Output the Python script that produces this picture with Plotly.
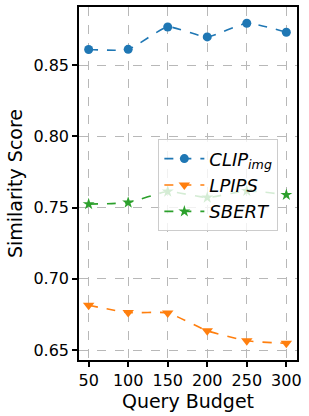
import plotly.graph_objects as go

budgets = [50, 100, 150, 200, 250, 300]
clip_img = [0.8609, 0.8610, 0.8767, 0.8697, 0.8793, 0.8730]
lpips = [0.6814, 0.6763, 0.6760, 0.6635, 0.6565, 0.6547]
sbert = [0.7524, 0.7535, 0.7612, 0.7570, 0.7617, 0.7589]
x_ticks = [50, 100, 150, 200, 250, 300]
y_ticks = [0.65, 0.70, 0.75, 0.80, 0.85]

fig = go.Figure()
series = [
    ("<i>CLIP<sub>img</sub></i>", clip_img, "#1f77b4", "circle", 9),
    ("<i>LPIPS</i>", lpips, "#ff7f0e", "triangle-down", 10),
    ("<i>SBERT</i>", sbert, "#2ca02c", "star", 9),
]
for name, vals, col, sym, sz in series:
    fig.add_trace(go.Scatter(
        x=budgets, y=vals, name=name, mode="lines+markers",
        line=dict(color=col, width=1.6, dash="dash", shape="spline", smoothing=0.5),
        marker=dict(symbol=sym, size=sz, color=col),
    ))

axis_common = dict(
    showline=True, linecolor="black", linewidth=1.6, mirror=True,
    ticks="outside", ticklen=5, tickwidth=1.5, tickcolor="black",
    showgrid=True, gridcolor="#b8b8b8", griddash="dash", gridwidth=1,
    zeroline=False, tickfont=dict(size=16, color="black"),
)
fig.update_xaxes(range=[37.8, 313.5], tickvals=x_ticks,
                 title=dict(text="Query Budget", font=dict(size=19, color="black"), standoff=4),
                 **axis_common)
fig.update_yaxes(range=[0.643, 0.8907], tickvals=y_ticks, tickformat=".2f",
                 title=dict(text="Similarity Score", font=dict(size=19, color="black"), standoff=6),
                 **axis_common)
fig.update_layout(
    width=309, height=416,
    margin=dict(l=79, r=12, t=5, b=56),
    plot_bgcolor="white", paper_bgcolor="white",
    font=dict(family="DejaVu Sans", color="black"),
    legend=dict(x=0.364, y=0.625, xanchor="left", yanchor="top",
                bgcolor="rgba(255,255,255,0.8)", bordercolor="#cccccc", borderwidth=1,
                font=dict(size=18, color="black"), tracegroupgap=0, itemwidth=40),
    showlegend=True,
)
fig.write_html("out.html", config={"displayModeBar": False},
               post_script="document.body.style.margin='0';document.body.style.padding='0';")
